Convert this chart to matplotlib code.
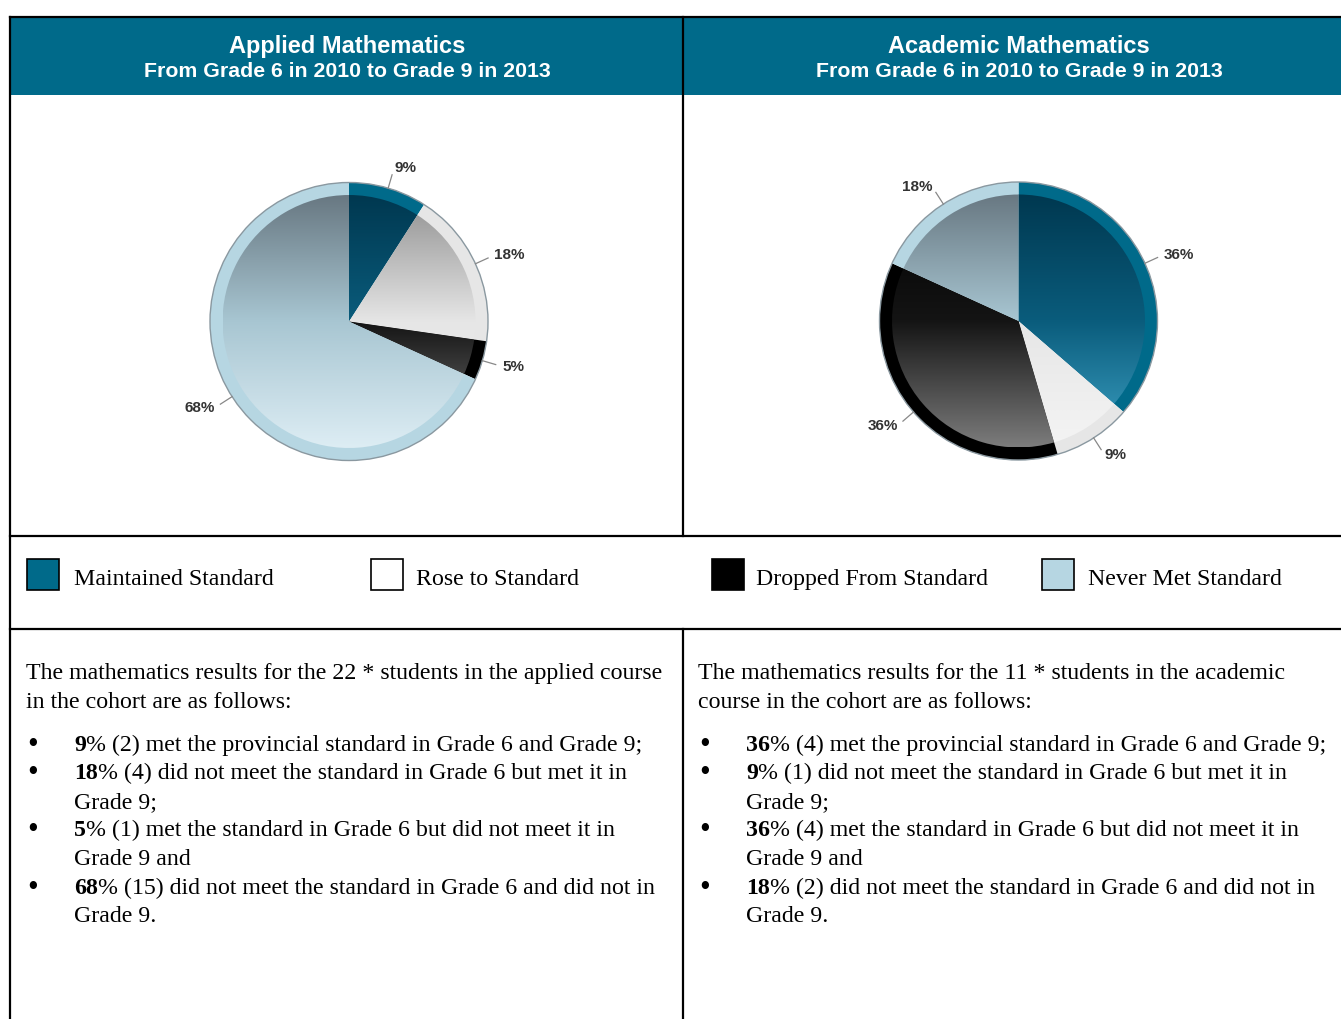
import matplotlib
matplotlib.use("Agg")
import matplotlib.pyplot as plt
import numpy as np
from matplotlib.patches import Rectangle, Circle
from matplotlib.colors import to_rgb

W, H = 1341, 1019

# data
categories = ["Maintained Standard", "Rose to Standard", "Dropped From Standard", "Never Met Standard"]
applied_counts = [2, 4, 1, 15]
applied_pct = [9, 18, 5, 68]
academic_counts = [4, 1, 4, 2]
academic_pct = [36, 9, 36, 18]

panel_titles = ["Applied Mathematics", "Academic Mathematics"]
panel_subtitle = "From Grade 6 in 2010 to Grade 9 in 2013"

intro_lines = [
    ["The mathematics results for the 22 * students in the applied course",
     "in the cohort are as follows:"],
    ["The mathematics results for the 11 * students in the academic",
     "course in the cohort are as follows:"],
]
desc_lines = [
    ["met the provincial standard in Grade 6 and Grade 9;"],
    ["did not meet the standard in Grade 6 but met it in", "Grade 9;"],
    ["met the standard in Grade 6 but did not meet it in", "Grade 9 and"],
    ["did not meet the standard in Grade 6 and did not in", "Grade 9."],
]

# styles: rim colour and a top / middle / bottom gradient for the inner part
rim_colors = ["#006a8a", "#e6e6e6", "#000000", "#b6d6e2"]
grad_stops = [
    ["#003850", "#0a5c7c", "#3ea3c6"],
    ["#909090", "#e6e6e6", "#f4f4f4"],
    ["#000000", "#141414", "#7c7c7c"],
    ["#687882", "#a8c6d2", "#ddedf4"],
]
legend_colors = ["#006a8a", "#ffffff", "#000000", "#b6d6e2"]
header_color = "#006a8a"
serif = "Liberation Serif"
size = 17.2

fig = plt.figure(figsize=(W / 100, H / 100), dpi=100)
bg = fig.add_axes([0, 0, 1, 1])
bg.set_xlim(0, W)
bg.set_ylim(H, 0)
bg.axis("off")

# header bands
bg.add_patch(Rectangle((10, 17), W - 10, 78, color=header_color, lw=0))
for cx, title in zip([347, 1019], panel_titles):
    bg.text(cx, 46, title, color="white", fontsize=17, fontweight="bold",
            family="Liberation Sans", ha="center", va="center")
    bg.text(cx, 71, panel_subtitle, color="white", fontsize=15.3, fontweight="bold",
            family="Liberation Sans", ha="center", va="center")

# table lines
lw = 1.6
bg.plot([10, W], [17, 17], color="black", lw=lw)
bg.plot([10, 10], [17, H], color="black", lw=lw)
bg.plot([683, 683], [17, 536], color="black", lw=lw)
bg.plot([683, 683], [629, H], color="black", lw=lw)
bg.plot([10, W], [536, 536], color="black", lw=lw)
bg.plot([10, W], [629, 629], color="black", lw=lw)


def gradient(stops, n=256):
    cols = np.array([to_rgb(c) for c in stops])
    pos = np.linspace(0, 1, len(stops))
    t = np.linspace(0, 1, n)
    img = np.stack([np.interp(t, pos, cols[:, k]) for k in range(3)], axis=-1)
    return img[:, None, :]


def draw_pie(cx, cy, r, counts, pct):
    box = 1.5
    side = 2 * box * r
    ax = fig.add_axes([(cx - side / 2) / W, (H - cy - side / 2) / H, side / W, side / H])
    ax.pie(counts, radius=1.0, colors=rim_colors, startangle=90, counterclock=False,
           wedgeprops=dict(linewidth=0))
    ri = 0.91
    inner, _ = ax.pie(counts, radius=ri, colors=["none"] * len(counts), startangle=90,
                      counterclock=False, wedgeprops=dict(linewidth=0))
    for i, w in enumerate(inner):
        im = ax.imshow(gradient(grad_stops[i]), extent=(-ri, ri, -ri, ri), origin="upper",
                       aspect="auto", interpolation="bilinear", zorder=2)
        im.set_clip_path(w)
    ax.add_patch(Circle((0, 0), 1.0, fill=False, ec="#8a98a0", lw=1.0, zorder=3))
    for w, p in zip(inner, pct):
        th = np.deg2rad((w.theta1 + w.theta2) / 2)
        c, s = np.cos(th), np.sin(th)
        ax.plot([c * 1.0, c * 1.1], [s * 1.0, s * 1.1], color="#888888", lw=0.9, zorder=3)
        ax.text(c * 1.15, s * 1.15, f"{p}%", fontsize=11, fontweight="bold", color="#333333",
                family="Liberation Sans", ha="left" if c > 0 else "right", va="center")
    ax.set_xlim(-box, box)
    ax.set_ylim(-box, box)
    ax.set_aspect("equal")
    ax.axis("off")


draw_pie(349, 321.5, 139, applied_counts, applied_pct)
draw_pie(1018.5, 321, 139, academic_counts, academic_pct)

# legend row
for sx, tx, name, col in zip([27, 371, 712, 1042], [74, 416, 756, 1088], categories, legend_colors):
    bg.add_patch(Rectangle((sx, 559), 32, 31, facecolor=col, edgecolor="black", lw=1.2))
    bg.text(tx, 585, name, fontsize=size, family=serif, ha="left", va="baseline")

# body text
renderer = fig.canvas.get_renderer()
step = 28.6


def mixed(x, y, parts):
    for s, weight in parts:
        t = bg.text(x, y, s, fontsize=size, fontweight=weight, family=serif,
                    ha="left", va="baseline")
        x += t.get_window_extent(renderer).width


for x0, intro, counts, pct in zip([26, 698], intro_lines, [applied_counts, academic_counts],
                                  [applied_pct, academic_pct]):
    y = 672 + 7
    for line in intro:
        bg.text(x0, y, line, fontsize=size, family=serif, ha="left", va="baseline")
        y += step
    y += 43 - step
    for n, p, desc in zip(counts, pct, desc_lines):
        bg.text(x0 + 7, y + 2, "\u2022", fontsize=22, family=serif, ha="center", va="baseline")
        mixed(x0 + 48, y, [(f"{p}", "bold"), (f"% ({n}) {desc[0]}", "normal")])
        y += step
        for extra in desc[1:]:
            bg.text(x0 + 48, y, extra, fontsize=size, family=serif, ha="left", va="baseline")
            y += step

fig.savefig("out.png", dpi=100)
